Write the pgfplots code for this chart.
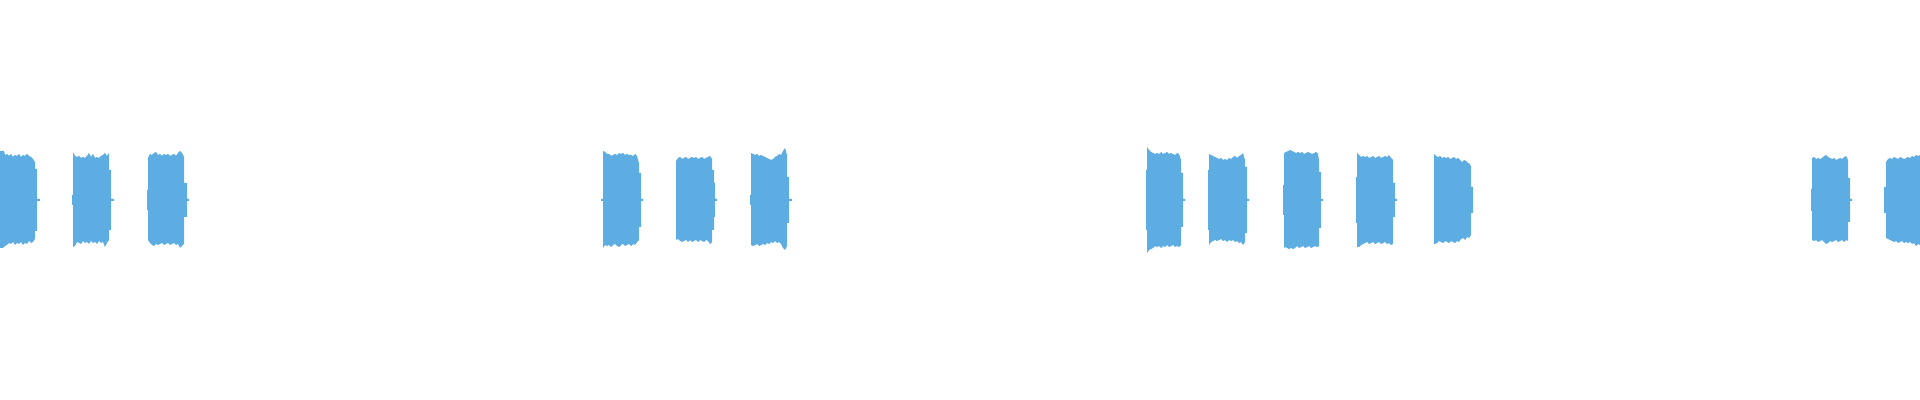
\documentclass[border=0pt]{standalone}
\usepackage{pgfplots}
\pgfplotsset{compat=1.18}
\definecolor{wave}{RGB}{93,173,226}

\begin{document}
\begin{tikzpicture}
\path[use as bounding box] (0,0) rectangle (20in,4.16667in);

\begin{axis}[
  at = {(0,0)}, anchor = south west,
  width = 20in, height = 4.16667in,
  scale only axis,
  hide axis,
  xmin = 0, xmax = 1920,
  ymin = -200, ymax = 200,
]

% burst envelopes, x in samples (px), y in amplitude (px from centre)
\addplot[fill=wave, draw=none] coordinates {
  (0,-48) (0,49) (4,49) (5,45) (7,46) (9,44) (11,46) (13,43) (15,45) (17,44) (19,46) (21,43) (23,45) (25,44) (27,46) (29,44) (31,43) (33,41) (35,38) (35,31) (37,31) (37,1) (40,1) (40,-1) (37,-1) (37,-31) (35,-31) (35,-39) (33,-42) (31,-43) (29,-41) (27,-44) (25,-43) (23,-45) (21,-42) (19,-44) (17,-43) (15,-45) (13,-42) (11,-44) (9,-43) (7,-45) (5,-46) (3,-48)
} -- cycle;

\addplot[fill=wave, draw=none] coordinates {
  (73,-47) (73,-5) (72,-5) (72,5) (73,5) (73,48) (75,44) (77,43) (79,44) (81,42) (83,43) (85,42) (87,44) (89,47) (91,43) (93,46) (95,42) (97,43) (99,42) (101,44) (103,45) (105,47) (107,44) (109,47) (109,30) (111,30) (111,1) (114,1) (114,-1) (111,-1) (111,-30) (109,-30) (109,-40) (107,-43) (105,-47) (103,-42) (101,-43) (99,-41) (97,-44) (95,-42) (93,-43) (91,-41) (89,-44) (87,-42) (85,-43) (83,-41) (81,-44) (79,-43) (77,-42) (75,-46)
} -- cycle;

\addplot[fill=wave, draw=none] coordinates {
  (148,-40) (148,-10) (147,-10) (147,10) (148,10) (148,42) (150,46) (152,45) (154,47) (156,48) (158,45) (160,46) (162,44) (164,46) (166,45) (168,46) (170,44) (172,45) (174,46) (176,44) (178,47) (180,49) (182,47) (184,43) (184,17) (187,17) (187,1) (189,1) (189,-1) (187,-1) (187,-17) (184,-17) (184,-44) (182,-46) (180,-48) (178,-44) (176,-45) (174,-43) (172,-44) (170,-45) (168,-43) (166,-44) (164,-45) (162,-43) (160,-44) (158,-45) (156,-44) (154,-46) (152,-45) (150,-43)
} -- cycle;

\addplot[fill=wave, draw=none] coordinates {
  (603,-48) (603,-1) (601,-1) (601,1) (603,1) (603,49) (605,48) (607,46) (609,46) (611,44) (613,45) (615,46) (617,45) (619,47) (621,46) (623,47) (625,45) (627,46) (629,45) (631,45) (633,44) (635,46) (637,44) (638,40) (639,37) (639,27) (641,27) (641,1) (643,1) (643,-1) (641,-1) (641,-27) (639,-27) (639,-40) (637,-42) (635,-45) (633,-44) (631,-46) (629,-44) (627,-45) (625,-46) (623,-44) (621,-45) (619,-47) (617,-46) (615,-44) (613,-45) (611,-47) (609,-45) (607,-46) (605,-45)
} -- cycle;

\addplot[fill=wave, draw=none] coordinates {
  (676,-40) (676,39) (678,42) (680,43) (682,41) (684,42) (686,43) (688,41) (690,42) (692,43) (694,42) (696,43) (698,41) (700,42) (702,43) (704,41) (706,42) (708,43) (710,44) (712,41) (712,30) (714,30) (714,17) (715,17) (715,1) (717,1) (717,-1) (715,-1) (715,-17) (714,-17) (714,-30) (712,-30) (712,-42) (710,-44) (708,-41) (706,-40) (704,-42) (702,-41) (700,-40) (698,-42) (696,-40) (694,-41) (692,-42) (690,-40) (688,-42) (686,-40) (684,-41) (682,-42) (680,-41) (678,-39)
} -- cycle;

\addplot[fill=wave, draw=none] coordinates {
  (751,-45) (751,-5) (750,-5) (750,5) (751,5) (751,47) (753,46) (755,45) (757,46) (759,44) (761,45) (763,44) (765,43) (767,42) (769,41) (771,40) (773,41) (775,43) (777,44) (779,46) (781,45) (783,49) (785,52) (787,45) (787,23) (789,23) (789,1) (792,1) (792,-1) (789,-1) (789,-23) (787,-23) (787,-46) (785,-50) (783,-48) (781,-44) (779,-42) (777,-43) (775,-41) (773,-43) (771,-42) (769,-44) (767,-43) (765,-45) (763,-44) (761,-45) (759,-46) (757,-44) (755,-45) (753,-46)
} -- cycle;

\addplot[fill=wave, draw=none] coordinates {
  (1147,-53) (1147,-30) (1146,-30) (1146,30) (1147,30) (1147,53) (1149,50) (1151,48) (1153,47) (1155,46) (1157,47) (1159,46) (1161,48) (1163,46) (1165,47) (1167,48) (1169,46) (1171,47) (1173,46) (1175,45) (1177,47) (1179,46) (1181,40) (1181,27) (1183,27) (1183,1) (1185,1) (1185,-1) (1183,-1) (1183,-27) (1181,-27) (1181,-45) (1179,-47) (1177,-46) (1175,-47) (1173,-45) (1171,-46) (1169,-47) (1167,-45) (1165,-47) (1163,-46) (1161,-48) (1159,-46) (1157,-47) (1155,-46) (1153,-48) (1151,-49) (1149,-50)
} -- cycle;

\addplot[fill=wave, draw=none] coordinates {
  (1209,-45) (1209,-30) (1208,-30) (1208,30) (1209,30) (1209,46) (1211,45) (1213,44) (1215,43) (1217,42) (1219,41) (1221,42) (1223,40) (1225,41) (1227,40) (1229,42) (1231,41) (1233,43) (1235,44) (1237,42) (1239,44) (1241,45) (1243,47) (1245,40) (1245,33) (1247,33) (1247,1) (1249,1) (1249,-1) (1247,-1) (1247,-33) (1245,-33) (1245,-42) (1243,-45) (1241,-42) (1239,-43) (1237,-41) (1235,-42) (1233,-40) (1231,-41) (1229,-40) (1227,-42) (1225,-40) (1223,-41) (1221,-39) (1219,-40) (1217,-41) (1215,-40) (1213,-41) (1211,-42)
} -- cycle;

\addplot[fill=wave, draw=none] coordinates {
  (1284,-48) (1284,-15) (1283,-15) (1283,15) (1284,15) (1284,47) (1286,48) (1288,49) (1290,50) (1292,49) (1294,48) (1296,47) (1298,48) (1300,47) (1302,48) (1304,46) (1306,47) (1308,48) (1310,47) (1312,46) (1314,47) (1316,48) (1318,46) (1319,40) (1319,28) (1321,28) (1321,1) (1323,1) (1323,-1) (1321,-1) (1321,-28) (1319,-28) (1319,-46) (1317,-47) (1315,-46) (1313,-47) (1311,-48) (1309,-46) (1307,-47) (1305,-48) (1303,-46) (1301,-47) (1299,-48) (1297,-46) (1295,-48) (1293,-49) (1291,-48) (1289,-49) (1287,-48) (1285,-47)
} -- cycle;

\addplot[fill=wave, draw=none] coordinates {
  (1357,-47) (1357,-23) (1356,-23) (1356,23) (1357,23) (1357,47) (1359,45) (1361,43) (1363,44) (1365,43) (1367,44) (1369,42) (1371,43) (1373,44) (1375,42) (1377,43) (1379,44) (1381,42) (1383,43) (1385,44) (1387,43) (1389,45) (1391,42) (1393,40) (1393,17) (1395,17) (1395,1) (1397,1) (1397,-1) (1395,-1) (1395,-17) (1393,-17) (1393,-44) (1391,-45) (1389,-43) (1387,-44) (1385,-42) (1383,-43) (1381,-44) (1379,-42) (1377,-43) (1375,-44) (1373,-42) (1371,-43) (1369,-44) (1367,-42) (1365,-43) (1363,-44) (1361,-45) (1359,-47)
} -- cycle;

\addplot[fill=wave, draw=none] coordinates {
  (1434,-44) (1434,46) (1436,44) (1438,43) (1440,44) (1442,42) (1444,43) (1446,42) (1448,43) (1450,41) (1452,42) (1454,43) (1456,41) (1458,42) (1460,40) (1462,38) (1464,40) (1466,39) (1468,37) (1470,36) (1471,33) (1471,13) (1473,13) (1473,-13) (1471,-13) (1471,-35) (1469,-38) (1467,-37) (1465,-40) (1463,-38) (1461,-39) (1459,-42) (1457,-41) (1455,-43) (1453,-42) (1451,-41) (1449,-43) (1447,-42) (1445,-41) (1443,-43) (1441,-42) (1439,-41) (1437,-43) (1435,-44)
} -- cycle;

\addplot[fill=wave, draw=none] coordinates {
  (1812,-40) (1812,-11) (1811,-11) (1811,11) (1812,11) (1812,42) (1814,43) (1816,41) (1818,42) (1820,41) (1822,42) (1824,44) (1826,45) (1828,43) (1830,42) (1832,41) (1834,42) (1836,40) (1838,41) (1840,42) (1842,41) (1844,43) (1846,44) (1848,40) (1848,22) (1850,22) (1850,1) (1852,1) (1852,-1) (1850,-1) (1850,-22) (1848,-22) (1848,-41) (1846,-40) (1844,-42) (1842,-40) (1840,-41) (1838,-42) (1836,-40) (1834,-41) (1832,-42) (1830,-41) (1828,-43) (1826,-44) (1824,-42) (1822,-40) (1820,-41) (1818,-42) (1816,-40) (1814,-41)
} -- cycle;

\addplot[fill=wave, draw=none] coordinates {
  (1886,-38) (1886,-13) (1884,-13) (1884,13) (1886,13) (1886,38) (1888,41) (1890,42) (1892,41) (1894,43) (1896,42) (1898,41) (1900,43) (1902,42) (1904,41) (1906,42) (1908,43) (1910,42) (1912,44) (1914,43) (1916,45) (1918,44) (1920,45) (1920,-45) (1918,-44) (1916,-46) (1914,-43) (1912,-44) (1910,-42) (1908,-43) (1906,-42) (1904,-43) (1902,-41) (1900,-42) (1898,-43) (1896,-41) (1894,-42) (1892,-41) (1890,-40) (1888,-39)
} -- cycle;

\end{axis}

\end{tikzpicture}
\end{document}
